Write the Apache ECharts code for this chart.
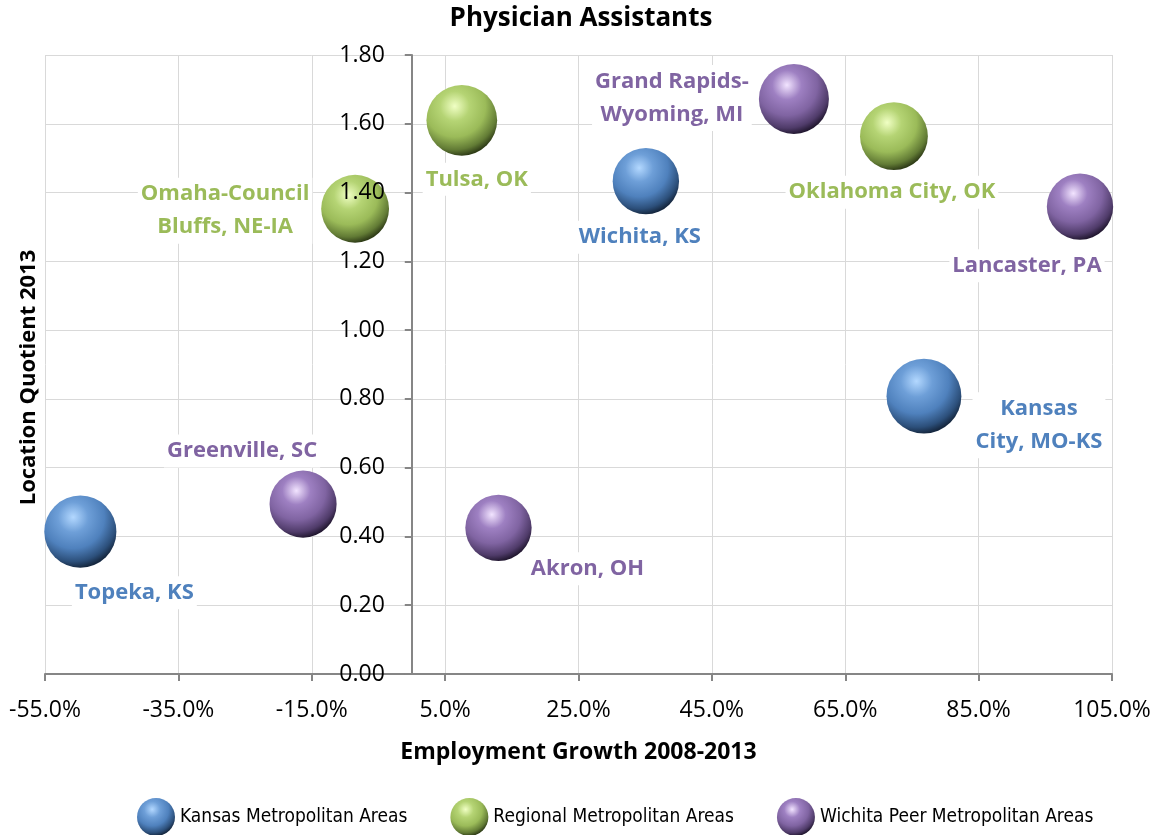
<!DOCTYPE html>
<html>
<head>
<meta charset="utf-8">
<title>Physician Assistants</title>
<script src="https://cdn.jsdelivr.net/npm/echarts@6/dist/echarts.min.js"></script>
<style>
  html, body { margin: 0; padding: 0; background: #fff; }
  #chart { width: 1162px; height: 835px; }
</style>
</head>
<body>
<div id="chart"></div>
<script>
// growth 2008-2013 (%), location quotient 2013, relative bubble size
const kansasNames = ["Topeka, KS", "Wichita, KS", "Kansas\nCity, MO-KS"];
const kansasGrowth = [-49.7, 35.1, 76.8];
const kansasLQ = [0.414, 1.433, 0.808];
const kansasSize = [52, 44, 56];

const regionalNames = ["Omaha-Council\nBluffs, NE-IA", "Tulsa, OK", "Oklahoma City, OK"];
const regionalGrowth = [-8.5, 7.5, 72.3];
const regionalLQ = [1.353, 1.61, 1.564];
const regionalSize = [46, 50, 46];

const peerNames = ["Greenville, SC", "Akron, OH", "Grand Rapids-\nWyoming, MI", "Lancaster, PA"];
const peerGrowth = [-16.3, 13.0, 57.3, 100.2];
const peerLQ = [0.494, 0.425, 1.672, 1.359];
const peerSize = [45, 44, 49, 44];

const xTicks = [-55, -35, -15, 5, 25, 45, 65, 85, 105];

// label placement around each bubble (px)
const kansasOffsets = [[54, 61], [-6, 56], [115, 29]];
const regionalOffsets = [[-130, 2], [15, 59], [-2, 56]];
const peerOffsets = [[-61, -53], [89, 41], [-122, -1], [-53, 59]];

const FONT = "'Open Sans', sans-serif";

const GRID_LEFT = 45, GRID_RIGHT = 50;
const plotWidth = 1162 - GRID_LEFT - GRID_RIGHT;
// y axis crosses at 0 % growth
const yAxisShift = (0 - xTicks[0]) / (xTicks[xTicks.length - 1] - xTicks[0]) * plotWidth;

function sphere(c) {
  return {
    type: "radial",
    x: 0.4,
    y: 0.3,
    r: 0.75,
    colorStops: [
      { offset: 0, color: c[0] },
      { offset: 0.28, color: c[1] },
      { offset: 0.58, color: c[2] },
      { offset: 0.82, color: c[3] },
      { offset: 0.95, color: c[4] },
      { offset: 1, color: c[3] },
    ],
  };
}

function makeSeries(name, names, xs, ys, sizes, offsets, fill, textColor) {
  return {
    name: name,
    type: "scatter",
    yAxisIndex: 0,
    data: names.map((n, i) => ({
      name: n,
      value: [xs[i], ys[i], sizes[i]],
      label: { offset: offsets[i] },
    })),
    symbolSize: (v) => Math.sqrt(v[2]) * 10,
    itemStyle: { color: fill, opacity: 1 },
    label: {
      show: true,
      position: "inside",
      formatter: (p) => p.name,
      color: textColor,
      fontFamily: FONT,
      fontWeight: "bold",
      fontSize: 22,
      lineHeight: 33,
      align: "center",
      verticalAlign: "middle",
      backgroundColor: "#fff",
      padding: [0, 3],
    },
    emphasis: { disabled: true },
    z: 3,
  };
}

const yRange = { type: "value", min: 0, max: 1.8, interval: 0.2 };

const chart = echarts.init(document.getElementById("chart"));

chart.setOption({
  animation: false,
  backgroundColor: "#fff",
  title: {
    text: "Physician Assistants",
    left: "center",
    top: 1,
    textStyle: { fontFamily: FONT, fontWeight: "bold", fontSize: 26, color: "#000" },
  },
  legend: {
    left: 132,
    top: 793,
    orient: "horizontal",
    itemWidth: 38,
    itemHeight: 38,
    itemGap: 43,
    icon: "circle",
    textStyle: {
      fontFamily: "'Liberation Sans Narrow', 'DejaVu Sans Condensed', sans-serif",
      fontSize: 19,
      color: "#000",
    },
  },
  grid: {
    left: GRID_LEFT,
    right: GRID_RIGHT,
    top: 55,
    bottom: 161,
    containLabel: false,
    outerBoundsMode: "none",
  },
  xAxis: {
    type: "value",
    min: xTicks[0],
    max: xTicks[xTicks.length - 1],
    name: "Employment Growth 2008-2013",
    nameLocation: "middle",
    nameGap: 67,
    nameTextStyle: { fontFamily: FONT, fontWeight: "bold", fontSize: 23, color: "#000" },
    axisLine: { show: true, lineStyle: { color: "#868686", width: 2 } },
    axisTick: { show: true, length: 7, customValues: xTicks, lineStyle: { color: "#868686", width: 2 } },
    axisLabel: {
      customValues: xTicks,
      formatter: (v) => v.toFixed(1) + "%",
      fontFamily: FONT,
      fontSize: 23,
      color: "#000",
      margin: 25,
    },
    splitLine: { show: true, lineStyle: { color: "#D9D9D9", width: 1 } },
  },
  yAxis: [
    {
      // visible axis at 0 % growth, drawn above the bubbles
      ...yRange,
      position: "left",
      offset: -yAxisShift,
      z: 5,
      name: "Location Quotient 2013",
      nameLocation: "middle",
      nameGap: 372,
      nameRotate: 90,
      nameTextStyle: {
        fontFamily: FONT,
        fontWeight: "bold",
        fontSize: 22,
        color: "#000",
        padding: [0, 26, 0, 0],
      },
      axisLine: { show: true, onZero: false, lineStyle: { color: "#868686", width: 2 } },
      axisTick: { show: true, length: 7, lineStyle: { color: "#868686", width: 2 } },
      axisLabel: {
        formatter: (v) => v.toFixed(2),
        fontFamily: FONT,
        fontSize: 23,
        color: "#000",
        margin: 27,
      },
      splitLine: { show: false },
    },
    {
      // horizontal gridlines only, kept under the bubbles
      ...yRange,
      position: "right",
      z: 0,
      axisLine: { show: false },
      axisTick: { show: false },
      axisLabel: { show: false },
      splitLine: { show: true, lineStyle: { color: "#D9D9D9", width: 1 } },
    },
  ],
  series: [
    makeSeries("Kansas Metropolitan Areas", kansasNames, kansasGrowth, kansasLQ, kansasSize,
      kansasOffsets, sphere(["#B3D8FF", "#6E9FD8", "#4F81BD", "#2C4F7A", "#15263D"]), "#4F81BD"),
    makeSeries("Regional Metropolitan Areas", regionalNames, regionalGrowth, regionalLQ, regionalSize,
      regionalOffsets, sphere(["#F0FFC4", "#B5D474", "#9BBB59", "#627B35", "#2E3B17"]), "#9BBB59"),
    makeSeries("Wichita Peer Metropolitan Areas", peerNames, peerGrowth, peerLQ, peerSize,
      peerOffsets, sphere(["#F2E4FF", "#9E80C2", "#8064A2", "#4F3B69", "#21172F"]), "#8064A2"),
  ],
});
</script>
</body>
</html>
